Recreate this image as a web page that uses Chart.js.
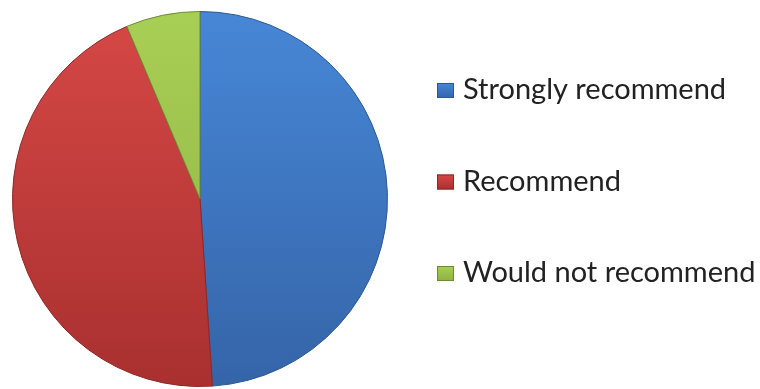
<!DOCTYPE html>
<html>
<head>
<meta charset="utf-8">
<script src="https://cdn.jsdelivr.net/npm/chart.js@4.4.0/dist/chart.umd.min.js"></script>
<style>
  html, body { margin: 0; padding: 0; background: #fff; }
  #wrap { width: 760px; height: 389px; }
</style>
</head>
<body>
<div id="wrap"><canvas id="pieChart"></canvas></div>
<script>
const labels = ['Strongly recommend', 'Recommend', 'Would not recommend'];
const counts = [23, 21, 3];

// top and bottom shade of each slice (office style gradient)
const topColors = ['#4787d6', '#d64846', '#a8cf55'];
const bottomColors = ['#3564a8', '#a8302f', '#8fb044'];
const edgeColors = ['#2c5890', '#8a2826', '#6d8b34'];

function sliceFill(ctx) {
  const chart = ctx.chart;
  const area = chart.chartArea;
  if (!area) return topColors[ctx.dataIndex];
  const g = chart.ctx.createLinearGradient(0, area.top, 0, area.bottom);
  g.addColorStop(0, topColors[ctx.dataIndex]);
  g.addColorStop(1, bottomColors[ctx.dataIndex]);
  return g;
}

// legend on the right with wide row gaps
const sideLegend = {
  id: 'sideLegend',
  afterDraw(chart) {
    const c = chart.ctx;
    c.save();
    c.font = '29px Lato';
    c.textBaseline = 'alphabetic';
    chart.data.labels.forEach((lab, i) => {
      const base = 99 + i * 91.5;
      const g = c.createLinearGradient(0, base - 16, 0, base - 1);
      g.addColorStop(0, topColors[i]);
      g.addColorStop(1, bottomColors[i]);
      c.fillStyle = g;
      c.fillRect(437, base - 16, 17, 15);
      c.strokeStyle = edgeColors[i];
      c.lineWidth = 1;
      c.strokeRect(437.5, base - 15.5, 16, 14);
      c.fillStyle = '#222';
      c.fillText(lab, 463, base);
    });
    c.restore();
  }
};

new Chart(document.getElementById('pieChart'), {
  type: 'pie',
  data: {
    labels: labels,
    datasets: [{
      data: counts,
      backgroundColor: sliceFill,
      borderColor: edgeColors,
      borderWidth: 1
    }]
  },
  options: {
    responsive: true,
    maintainAspectRatio: false,
    animation: false,
    layout: { padding: { left: 12, right: 372, top: 10, bottom: 1 } },
    plugins: {
      legend: { display: false },
      tooltip: { enabled: false }
    }
  },
  plugins: [sideLegend]
});
</script>
</body>
</html>
